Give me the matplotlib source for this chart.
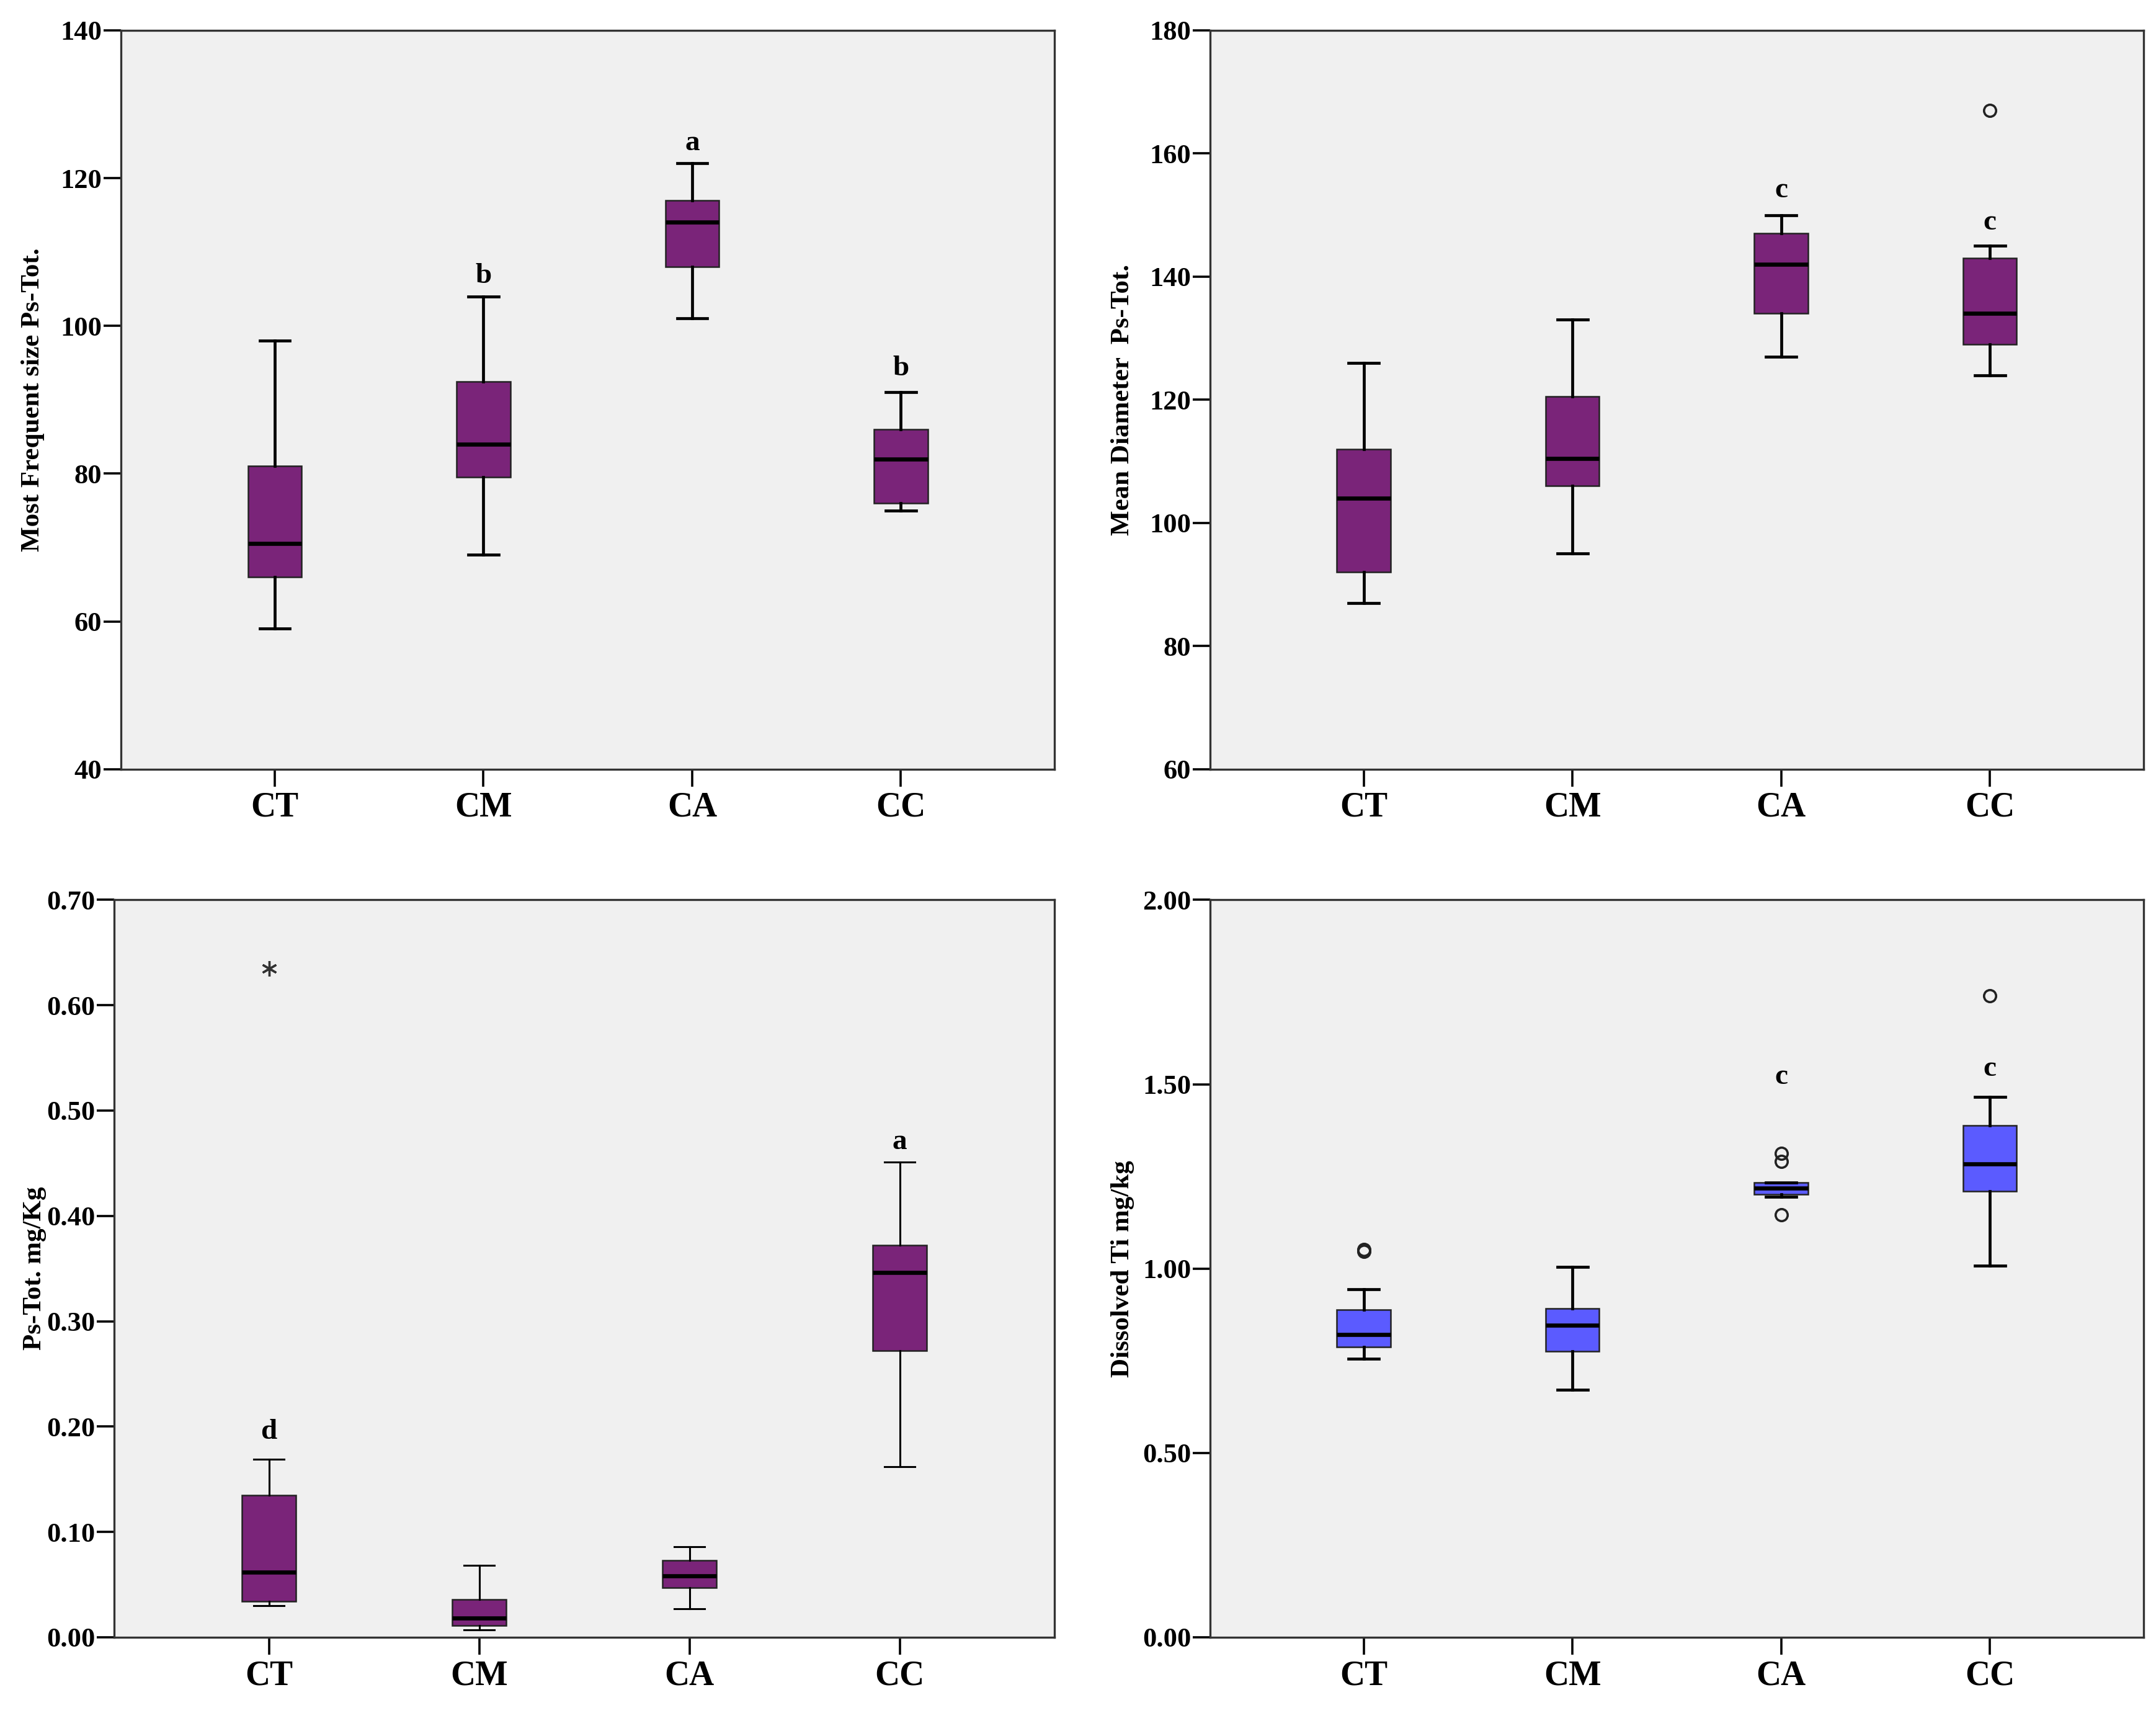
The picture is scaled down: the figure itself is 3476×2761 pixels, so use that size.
import numpy as np
import matplotlib.pyplot as plt

plt.rcParams['font.family'] = ['Liberation Serif', 'DejaVu Serif']
plt.rcParams['font.weight'] = 'bold'

groups = ['CT', 'CM', 'CA', 'CC']

# panel 1: Most Frequent size
mf_whislo = [59, 69, 101, 75]
mf_q1 = [66, 79.5, 108, 76]
mf_med = [70.5, 84, 114, 82]
mf_q3 = [81, 92.5, 117, 86]
mf_whishi = [98, 104, 122, 91]
mf_fliers = [[], [], [], []]
mf_letters = ['', 'b', 'a', 'b']
mf_letter_y = [0, 106.7, 124.7, 94.2]

# panel 2: Mean Diameter
md_whislo = [87, 95, 127, 124]
md_q1 = [92, 106, 134, 129]
md_med = [104, 110.5, 142, 134]
md_q3 = [112, 120.5, 147, 143]
md_whishi = [126, 133, 150, 145]
md_fliers = [[], [], [], [167]]
md_letters = ['', '', 'c', 'c']
md_letter_y = [0, 0, 154, 148.7]

# panel 3: Ps-Tot. mg/Kg
ps_whislo = [0.030, 0.007, 0.027, 0.162]
ps_q1 = [0.034, 0.011, 0.047, 0.272]
ps_med = [0.062, 0.018, 0.058, 0.346]
ps_q3 = [0.135, 0.036, 0.073, 0.372]
ps_whishi = [0.169, 0.068, 0.086, 0.451]
ps_extreme = [[0.635], [], [], []]
ps_letters = ['d', '', '', 'a']
ps_letter_y = [0.195, 0, 0, 0.470]

# panel 4: Dissolved Ti
ti_whislo = [0.755, 0.672, 1.195, 1.007]
ti_q1 = [0.787, 0.776, 1.201, 1.209]
ti_med = [0.821, 0.847, 1.218, 1.284]
ti_q3 = [0.888, 0.892, 1.234, 1.388]
ti_whishi = [0.944, 1.004, 1.234, 1.466]
ti_fliers = [[1.046, 1.052], [], [1.146, 1.291, 1.313], [1.739]]
ti_letters = ['', '', 'c', 'c']
ti_letter_y = [0, 0, 1.519, 1.541]

PURPLE = '#7A2479'
BLUE = '#5B5BFF'
BG = '#F0F0F0'


def draw(ax, lo, q1, med, q3, hi, fliers, color, ylim, yticks, fmt, ylabel,
         letters, letter_y, extreme=False, thin=False):
    stats = []
    for i in range(4):
        stats.append(dict(whislo=lo[i], q1=q1[i], med=med[i], q3=q3[i],
                          whishi=hi[i], fliers=fliers[i], label=groups[i]))
    pos = np.arange(1, 5)
    lw = 1.1 if thin else 1.7
    if extreme:
        fp = dict(marker=(6, 2, 0), markeredgecolor='#333333', markersize=9,
                  markeredgewidth=1.2)
    else:
        fp = dict(marker='o', markerfacecolor='none', markeredgecolor='#222222',
                  markersize=7, markeredgewidth=1.3)
    ax.bxp(stats, positions=pos, widths=0.257, capwidths=0.145,
           patch_artist=True, showfliers=True,
           boxprops=dict(facecolor=color, edgecolor='#222222', linewidth=0.9),
           medianprops=dict(color='black', linewidth=2.4),
           whiskerprops=dict(color='black', linewidth=lw),
           capprops=dict(color='black', linewidth=lw),
           flierprops=fp)
    for i in range(4):
        if letters[i]:
            ax.text(pos[i], letter_y[i], letters[i], ha='center', va='center',
                    fontsize=17, fontweight='bold')
    ax.set_facecolor(BG)
    ax.set_xlim(0.263, 4.737)
    ax.set_ylim(*ylim)
    ax.set_yticks(yticks)
    ax.set_yticklabels([fmt % v for v in yticks], fontsize=16, fontweight='bold')
    ax.set_xticks(pos)
    ax.set_xticklabels(groups, fontsize=20, fontweight='bold')
    ax.tick_params(axis='y', direction='out', length=10, width=1.3, pad=1)
    ax.tick_params(axis='x', direction='out', length=10, width=1.3, pad=3)
    for sp in ax.spines.values():
        sp.set_linewidth(1.2)
        sp.set_color('#333333')
    ax.set_ylabel(ylabel, fontsize=15.5, fontweight='bold')


fig = plt.figure(figsize=(17.38, 13.805), dpi=200)
ax1 = fig.add_axes([0.0561, 0.551, 0.4331, 0.4313])
ax2 = fig.add_axes([0.5612, 0.551, 0.4331, 0.4313])
ax3 = fig.add_axes([0.0529, 0.0442, 0.4363, 0.4305])
ax4 = fig.add_axes([0.5612, 0.0442, 0.4331, 0.4305])

draw(ax1, mf_whislo, mf_q1, mf_med, mf_q3, mf_whishi, mf_fliers, PURPLE,
     (40, 140), [40, 60, 80, 100, 120, 140], '%d',
     'Most Frequent size Ps-Tot.', mf_letters, mf_letter_y)
ax1.yaxis.set_label_coords(-0.082, 0.5)

draw(ax2, md_whislo, md_q1, md_med, md_q3, md_whishi, md_fliers, PURPLE,
     (60, 180), [60, 80, 100, 120, 140, 160, 180], '%d',
     'Mean Diameter  Ps-Tot.', md_letters, md_letter_y)
ax2.yaxis.set_label_coords(-0.081, 0.5)

draw(ax3, ps_whislo, ps_q1, ps_med, ps_q3, ps_whishi, ps_extreme, PURPLE,
     (0, 0.7), [0.0, 0.1, 0.2, 0.3, 0.4, 0.5, 0.6, 0.7], '%.2f',
     'Ps-Tot. mg/Kg', ps_letters, ps_letter_y, extreme=True, thin=True)
ax3.yaxis.set_label_coords(-0.072, 0.5)

draw(ax4, ti_whislo, ti_q1, ti_med, ti_q3, ti_whishi, ti_fliers, BLUE,
     (0, 2.0), [0.0, 0.5, 1.0, 1.5, 2.0], '%.2f',
     'Dissolved Ti mg/kg', ti_letters, ti_letter_y)
ax4.yaxis.set_label_coords(-0.081, 0.5)

fig.savefig('out.png', dpi=200, facecolor='white')
